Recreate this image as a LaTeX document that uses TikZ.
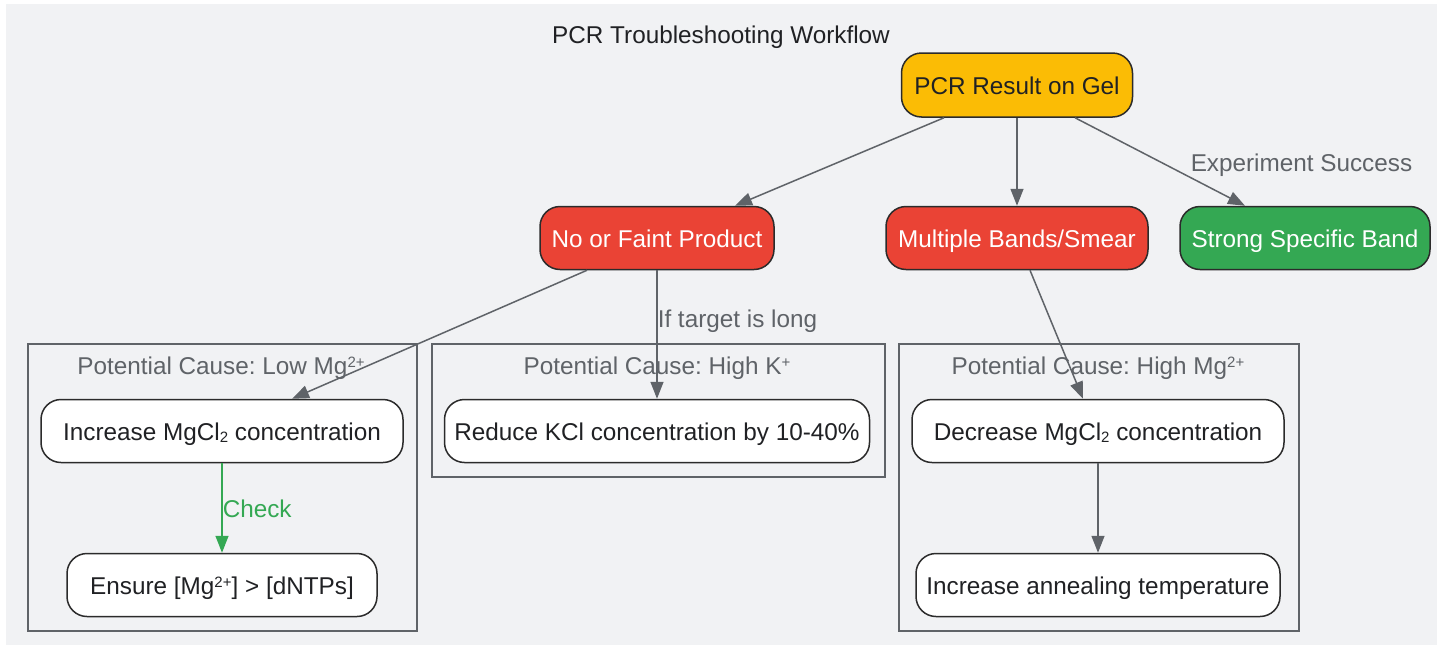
\documentclass[tikz,border=0pt]{standalone}
\usepackage{fontspec}
\setmainfont{Liberation Sans}
\usepackage{tikz}
\usetikzlibrary{calc}
\usetikzlibrary{arrows.meta}
\frenchspacing

\definecolor{bggray}{HTML}{F1F2F4}
\definecolor{textdark}{HTML}{202124}
\definecolor{edgegray}{HTML}{5F6368}
\definecolor{boxline}{HTML}{2B2B2B}
\definecolor{resultyellow}{HTML}{FBBC05}
\definecolor{badred}{HTML}{EA4335}
\definecolor{goodgreen}{HTML}{34A853}

% small raised / lowered figures as the chart prints them
\newcommand\sups[1]{\raisebox{0.3em}{\fontsize{15}{15}\selectfont #1}}
\newcommand\subs[1]{\raisebox{-0.1em}{\fontsize{15}{15}\selectfont #1}}

\begin{document}
\begin{tikzpicture}[x=1pt,y=-1pt,
  every node/.style={font=\fontsize{24.3}{29}\selectfont,text height=23pt,text depth=4.4pt},
  box/.style={draw=boxline,line width=1.5pt,rounded corners=20pt,minimum height=63pt,
    inner xsep=0pt,text=textdark,fill=white},
  cluster/.style={draw=edgegray,line width=1.5pt,inner sep=0pt,anchor=north west},
  ctitle/.style={text=edgegray,inner sep=0pt},
  flow/.style={draw=edgegray,line width=1.5pt,-{Triangle[length=17pt,width=13pt]}},
  elabel/.style={text=edgegray,inner sep=0pt,anchor=west}]
  % Constants
  \pgfmathsetmacro\ya{85}
  \pgfmathsetmacro\yb{238}
  \pgfmathsetmacro\yc{431}
  \pgfmathsetmacro\yd{585}
  % Boundary
  \path[use as bounding box] (0,0) rectangle (1443,646);
  \fill[bggray] (6,4) rectangle (1437,645);
  % Title
  \node[text=textdark,inner sep=0pt] (title) at (721,34) {PCR Troubleshooting Workflow};
  % Clusters
  \node[cluster,minimum width=389pt,minimum height=287pt] (clow) at (27,343) {};
  \node[cluster,minimum width=453pt,minimum height=133pt] (chighk) at (431,343) {};
  \node[cluster,minimum width=400pt,minimum height=287pt] (chighmg) at (898,343) {};
  \node[ctitle] (tlow) at (221,365) {Potential Cause: Low Mg\sups{2+}};
  \node[ctitle] (thighk) at (657,365) {Potential Cause: High K\sups{+}};
  \node[ctitle] (thighmg) at (1098,365) {Potential Cause: High Mg\sups{2+}};
  % Result level
  \node[box,fill=resultyellow,minimum width=231pt,minimum height=64pt] (pcr) at (1017,\ya) {PCR Result on Gel};
  \node[box,fill=badred,text=white,minimum width=234pt] (nofaint) at (657,\yb) {No or Faint Product};
  \node[box,fill=badred,text=white,minimum width=262pt] (multi) at (1017,\yb) {Multiple Bands/Smear};
  \node[box,fill=goodgreen,text=white,minimum width=250pt] (strong) at (1305,\yb) {Strong Specific Band};
  % Fixes
  \node[box,minimum width=362pt] (incmg) at (222,\yc) {Increase MgCl\subs{2} concentration};
  \node[box,minimum width=310pt] (ensure) at (222,\yd) {Ensure [Mg\sups{2+}] > [dNTPs]};
  \node[box,minimum width=425pt] (redk) at (657,\yc) {Reduce KCl concentration by 10-40\%};
  \node[box,minimum width=372pt] (decmg) at (1098,\yc) {Decrease MgCl\subs{2} concentration};
  \node[box,minimum width=364pt] (anneal) at (1098,\yd) {Increase annealing temperature};
  % Edges
  \draw[flow] ([xshift=-73pt]pcr.south) -- ([xshift=78pt]nofaint.north);
  \draw[flow] (pcr) -- (multi);
  \draw[flow] ([xshift=58pt]pcr.south) -- node[elabel,pos=0.5,xshift=30pt] (lsuccess) {Experiment Success} ([xshift=-60pt]strong.north);
  \draw[flow] ([xshift=-70pt]nofaint.south) -- ([xshift=70pt]incmg.north);
  \draw[flow] (nofaint) -- node[elabel,pos=0.37] (llong) {If target is long} (redk);
  \draw[flow] ([xshift=13pt]multi.south) -- ([xshift=-15pt]decmg.north);
  \draw[flow,draw=goodgreen] (incmg) -- node[elabel,text=goodgreen,pos=0.5] (lcheck) {Check} (ensure);
  \draw[flow] (decmg) -- (anneal);
\end{tikzpicture}
\end{document}
